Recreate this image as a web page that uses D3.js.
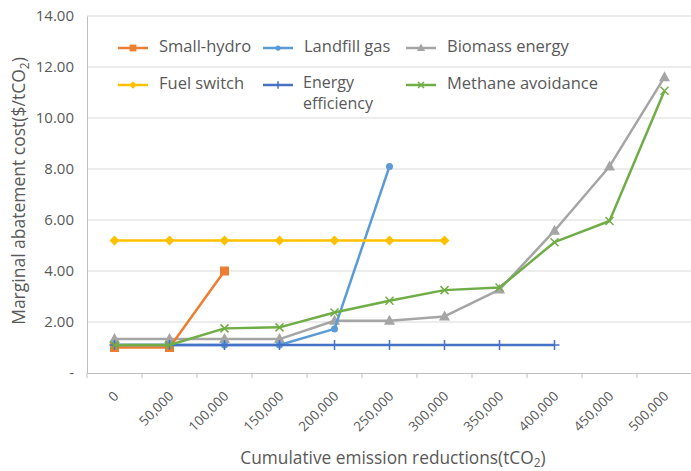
<!DOCTYPE html>
<html><head><meta charset="utf-8">
<script src="https://cdn.jsdelivr.net/npm/d3@7"></script>
<style>body{margin:0;background:#fff}svg{display:block}text{font-family:"Open Sans","Noto Sans",sans-serif;fill:#595959}</style>
</head><body><svg id="c" width="691" height="471"></svg>
<script>
const categories = ["0","50,000","100,000","150,000","200,000","250,000","300,000","350,000","400,000","450,000","500,000"];
const yTicks = [0,2,4,6,8,10,12,14];
const smallHydro = [1.0, 1.0, 4.0];
const fuelSwitch = [5.2, 5.2, 5.2, 5.2, 5.2, 5.2, 5.2];
const landfillGas = [1.1, 1.1, 1.1, 1.1, 1.73, 8.1];
const energyEfficiency = [1.1, 1.1, 1.1, 1.1, 1.1, 1.1, 1.1, 1.1, 1.1];
const biomassEnergy = [1.33, 1.33, 1.33, 1.33, 2.05, 2.05, 2.22, 3.27, 5.58, 8.1, 11.6];
const methaneAvoidance = [1.1, 1.1, 1.75, 1.79, 2.37, 2.83, 3.25, 3.35, 5.13, 5.96, 11.07];

const series = [
  {name:"Small-hydro", data:smallHydro, color:"#ED7D31", marker:"square"},
  {name:"Fuel switch", data:fuelSwitch, color:"#FFC000", marker:"diamond"},
  {name:"Landfill gas", data:landfillGas, color:"#5B9BD5", marker:"circle"},
  {name:"Energy efficiency", data:energyEfficiency, color:"#4472C4", marker:"plus"},
  {name:"Biomass energy", data:biomassEnergy, color:"#A5A5A5", marker:"triangle"},
  {name:"Methane avoidance", data:methaneAvoidance, color:"#70AD47", marker:"x"}
];

const svg = d3.select("#c");
const L=87, R=692, T=16, B=373;
const x = d3.scaleBand().domain(categories).range([L,R]).padding(0);
const y = d3.scaleLinear().domain([0,14]).range([B,T]);

// gridlines
svg.append("g").selectAll("line").data(yTicks.filter(d=>d>0)).join("line")
  .attr("x1",L).attr("x2",R).attr("y1",d=>y(d)).attr("y2",d=>y(d))
  .attr("stroke","#d9d9d9").attr("stroke-width",1);

// y axis
const yAxis = d3.axisLeft(y).tickValues(yTicks).tickSize(0).tickPadding(13)
  .tickFormat(d=> d===0 ? "-" : d3.format(".2f")(d));
const gy = svg.append("g").attr("transform",`translate(${L},0)`).call(yAxis);
gy.select(".domain").attr("stroke","#bfbfbf");
gy.selectAll(".tick text").style("font-size","15px").attr("fill","#595959");

// x axis
const xAxis = d3.axisBottom(x).tickSize(0).tickPadding(0);
const gx = svg.append("g").attr("transform",`translate(0,${B})`).call(xAxis);
gx.select(".domain").attr("stroke","#bfbfbf");
gx.selectAll(".tick text").style("font-size","13.5px").attr("fill","#595959")
  .attr("text-anchor","end").attr("y",0).attr("dy",0).attr("transform","translate(5,24) rotate(-45)");
// boundary ticks
const bounds = categories.map(c=>x(c)).concat([x(categories[categories.length-1])+x.bandwidth()]);
svg.append("g").selectAll("line").data(bounds).join("line")
  .attr("x1",d=>d).attr("x2",d=>d).attr("y1",B).attr("y2",B+5).attr("stroke","#bfbfbf");

const cx = i => x(categories[i]) + x.bandwidth()/2;

function drawMarker(g, type, color, px, py, s){
  s = s || 1;
  if(type==="square") g.append("rect").attr("x",px-4.5*s).attr("y",py-4.5*s).attr("width",9*s).attr("height",9*s).attr("fill",color);
  else if(type==="diamond") g.append("path").attr("d",`M${px},${py-5*s}L${px+5*s},${py}L${px},${py+5*s}L${px-5*s},${py}Z`).attr("fill",color);
  else if(type==="circle") g.append("circle").attr("cx",px).attr("cy",py).attr("r",3.5*s).attr("fill",color);
  else if(type==="plus") g.append("path").attr("d",`M${px},${py-5*s}V${py+5*s}M${px-5*s},${py}H${px+5*s}`).attr("stroke",color).attr("stroke-width",1.5);
  else if(type==="triangle") g.append("path").attr("d",`M${px},${py-6*s}L${px+5.5*s},${py+4*s}L${px-5.5*s},${py+4*s}Z`).attr("fill",color);
  else if(type==="x") g.append("path").attr("d",`M${px-4*s},${py-4*s}L${px+4*s},${py+4*s}M${px-4*s},${py+4*s}L${px+4*s},${py-4*s}`).attr("stroke",color).attr("stroke-width",1.5);
}

const line = d3.line().x((d,i)=>cx(i)).y(d=>y(d));
const order = [4,2,0,1,3,5];
order.forEach(k=>{
  const s = series[k];
  const g = svg.append("g");
  g.append("path").datum(s.data).attr("d",line).attr("fill","none").attr("stroke",s.color).attr("stroke-width",2.5).attr("stroke-linejoin","round");
  s.data.forEach((v,i)=>drawMarker(g, s.marker, s.color, cx(i), y(v)));
});

// legend
const legPos = [
  {lx:118, ly:48}, {lx:118, ly:85}, {lx:263, ly:48}, {lx:263, ly:85}, {lx:406, ly:48}, {lx:406, ly:85}
];
series.forEach((s,k)=>{
  const p = legPos[k];
  const g = svg.append("g");
  g.append("line").attr("x1",p.lx).attr("x2",p.lx+30).attr("y1",p.ly).attr("y2",p.ly).attr("stroke",s.color).attr("stroke-width",2.5);
  drawMarker(g, s.marker, s.color, p.lx+15, p.ly, 0.75);
  if(s.name==="Energy efficiency"){
    g.append("text").attr("x",p.lx+40).attr("y",p.ly+3).style("font-size","16px").text("Energy");
    g.append("text").attr("x",p.lx+40).attr("y",p.ly+24).style("font-size","16px").text("efficiency");
  } else {
    g.append("text").attr("x",p.lx+41).attr("y",p.ly+4).style("font-size","16.5px").text(s.name);
  }
});

// axis titles
const xt = svg.append("text").attr("x",393).attr("y",464).attr("text-anchor","middle").style("font-size","17.3px");
xt.append("tspan").text("Cumulative emission reductions(tCO");
xt.append("tspan").attr("dy",3).style("font-size","12px").text("2");
xt.append("tspan").attr("dy",-3).text(")");
const yt = svg.append("text").attr("transform","translate(25,191) rotate(-90)").attr("text-anchor","middle").style("font-size","17.5px");
yt.append("tspan").text("Marginal abatement cost($/tCO");
yt.append("tspan").attr("dy",4).style("font-size","12px").text("2");
yt.append("tspan").attr("dy",-4).text(")");
</script></body></html>
